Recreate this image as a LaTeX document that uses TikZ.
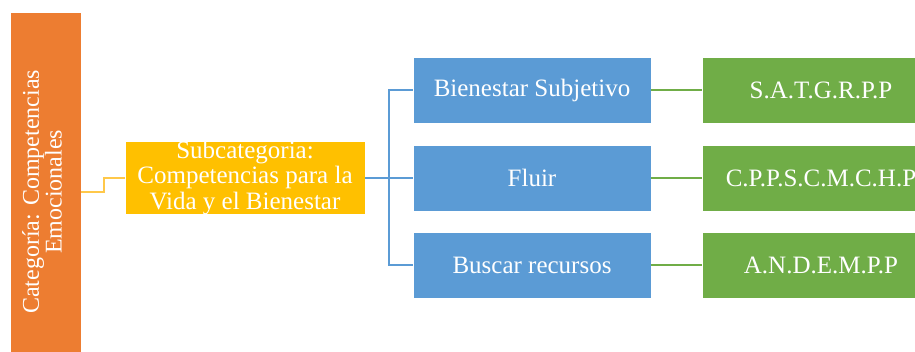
\documentclass[tikz,border=0pt]{standalone}
\usepackage{fontspec}
\setmainfont{Liberation Serif}
\definecolor{orangebox}{HTML}{ED7D31}
\definecolor{yellowbox}{HTML}{FFC000}
\definecolor{yellowline}{HTML}{FFC84A}
\definecolor{bluebox}{HTML}{5B9BD5}
\definecolor{greenbox}{HTML}{70AD47}
\begin{document}
\begin{tikzpicture}[x=1pt,y=-1pt,
  box/.style={draw=white, line width=0.8pt, text=white, align=center, inner sep=0pt,
    font=\fontsize{25}{25}\selectfont},
  catbox/.style={box, fill=orangebox, minimum width=71pt, minimum height=360pt},
  subbox/.style={box, fill=yellowbox, minimum width=240pt, minimum height=69pt},
  bluenode/.style={box, fill=bluebox, minimum width=238pt, minimum height=66pt},
  greennode/.style={box, fill=greenbox, minimum width=238pt, minimum height=66pt},
  yline/.style={draw=yellowline, line width=1.8pt},
  bline/.style={draw=bluebox, line width=1.8pt},
  gline/.style={draw=greenbox, line width=1.8pt}]
\clip (0,0) rectangle (915,351);
\fill[white] (0,0) rectangle (915,351);
\node[catbox] (cat) at (45.5,192) {};
\node[rotate=90, text=white, align=center, font=\fontsize{24}{21}\selectfont] (cattext) at (42,192)
  {Categoría: Competencias\\Emocionales};
\node[subbox, font=\fontsize{25}{25.5}\selectfont] (sub) at (245,178)
  {Subcategoria:\\Competencias para la\\Vida y el Bienestar};
\node[bluenode] (b1) at (532,90) {Bienestar Subjetivo};
\node[bluenode] (b2) at (532,178) {Fluir};
\node[bluenode] (b3) at (532,265) {Buscar recursos};
\node[greennode] (g1) at (821,90) {S.A.T.G.R.P.P};
\node[greennode] (g2) at (821,178) {C.P.P.S.C.M.C.H.P};
\node[greennode] (g3) at (821,265) {A.N.D.E.M.P.P};
\coordinate (ca) at (81,192);
\coordinate (cb) at (104,192);
\coordinate (cc) at (104,178);
\draw[yline] (ca) -- (cb) -- (cc) -- (sub.west);
\coordinate (j) at (389,178);
\draw[bline] (sub.east) -- (j);
\draw[bline] (j) |- (b1.west);
\draw[bline] (j) -- (b2.west);
\draw[bline] (j) |- (b3.west);
\draw[gline] (b1.east) -- (g1.west);
\draw[gline] (b2.east) -- (g2.west);
\draw[gline] (b3.east) -- (g3.west);
\end{tikzpicture}
\end{document}
